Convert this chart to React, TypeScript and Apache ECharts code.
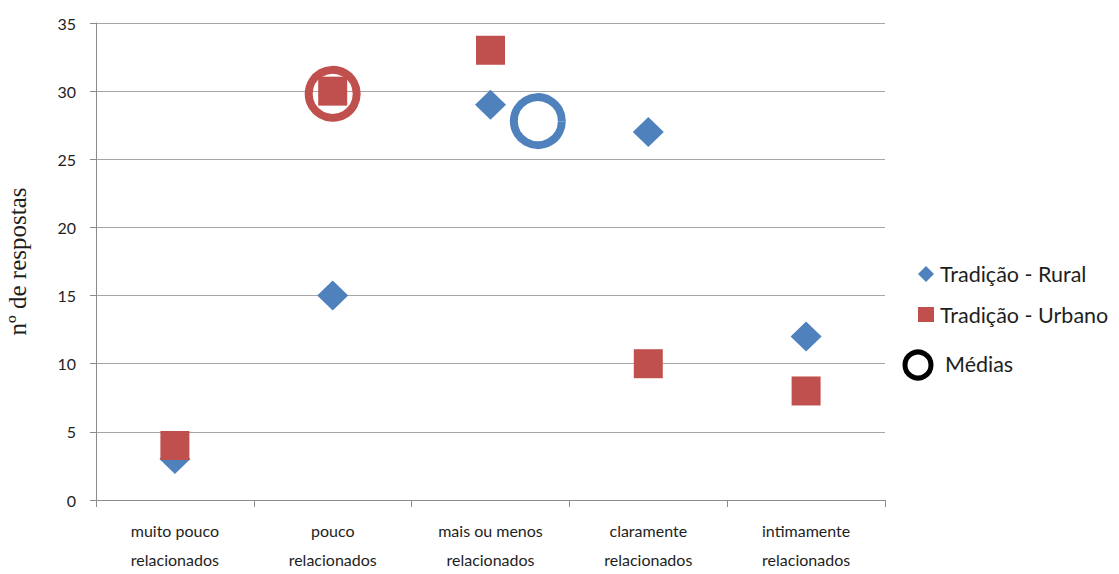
import React, { useEffect, useRef } from "react";
import * as echarts from "echarts";

const categories = [
  "muito pouco\nrelacionados",
  "pouco\nrelacionados",
  "mais ou menos\nrelacionados",
  "claramente\nrelacionados",
  "intimamente\nrelacionados",
];
const rural = [3, 15, 29, 27, 12];
const urbano = [4, 30, 33, 10, 8];
// médias: [category position (1-based), value]
const mediaUrbano = [2.0, 29.8];
const mediaRural = [3.3, 27.8];
const yTicks = { min: 0, max: 35, interval: 5 };

const BLUE = "#4F81BD";
const RED = "#C0504D";
const GRID = "#A6A6A6";
const TEXT = "#1e1e1e";
const SANS = "Lato, 'Open Sans', sans-serif";

export default function App() {
  const ref = useRef<HTMLDivElement>(null);
  useEffect(() => {
    const chart = echarts.init(ref.current!, undefined, { renderer: "svg" });
    chart.setOption({
      animation: false,
      backgroundColor: "#ffffff",
      grid: {
        left: 96,
        right: 234,
        top: 23,
        bottom: 74,
        containLabel: false,
        outerBoundsMode: "none",
      },
      xAxis: [
        {
          type: "category",
          data: categories,
          boundaryGap: true,
          axisLine: { show: true, lineStyle: { color: "#8c8c8c", width: 1 } },
          axisTick: { show: true, length: 7, lineStyle: { color: "#8c8c8c" } },
          axisLabel: {
            color: TEXT,
            fontFamily: SANS,
            fontSize: 16,
            lineHeight: 29,
            margin: 16,
            interval: 0,
          },
          splitLine: { show: false },
        },
        {
          type: "value",
          min: 0.5,
          max: 5.5,
          show: false,
          position: "bottom",
        },
      ],
      yAxis: {
        type: "value",
        min: yTicks.min,
        max: yTicks.max,
        interval: yTicks.interval,
        name: "nº de respostas",
        nameLocation: "middle",
        nameRotate: 90,
        nameGap: 66,
        nameTextStyle: {
          fontFamily: "'Liberation Serif', 'DejaVu Serif', serif",
          fontSize: 25,
          color: TEXT,
        },
        axisLine: { show: true, lineStyle: { color: "#8c8c8c", width: 1 } },
        axisTick: { show: true, length: 6, lineStyle: { color: "#8c8c8c" } },
        axisLabel: { color: TEXT, fontFamily: SANS, fontSize: 16, margin: 20 },
        splitLine: { show: true, lineStyle: { color: GRID, width: 1 } },
      },
      series: [
        {
          name: "Médias",
          type: "scatter",
          xAxisIndex: 1,
          symbol: "circle",
          symbolSize: 48,
          z: 1,
          data: [
            {
              value: mediaUrbano,
              itemStyle: { color: "rgba(0,0,0,0)", borderColor: RED, borderWidth: 8, opacity: 1 },
            },
            {
              value: mediaRural,
              itemStyle: { color: "rgba(0,0,0,0)", borderColor: BLUE, borderWidth: 8, opacity: 1 },
            },
          ],
        },
        {
          name: "Tradição - Rural",
          type: "scatter",
          xAxisIndex: 0,
          symbol: "diamond",
          symbolSize: [31, 30],
          z: 2,
          itemStyle: { color: BLUE, opacity: 1 },
          data: rural,
        },
        {
          name: "Tradição - Urbano",
          type: "scatter",
          xAxisIndex: 0,
          symbol: "rect",
          symbolSize: 29,
          z: 3,
          itemStyle: { color: RED, opacity: 1 },
          data: urbano,
        },
      ],
      graphic: [
        {
          type: "polygon",
          shape: { points: [[926, 266], [934, 274], [926, 282], [918, 274]] },
          style: { fill: BLUE },
        },
        {
          type: "text",
          x: 940,
          y: 274,
          style: {
            text: "Tradição - Rural",
            fontFamily: SANS,
            fontSize: 21.5,
            fill: TEXT,
            verticalAlign: "middle",
          },
        },
        {
          type: "rect",
          shape: { x: 918, y: 307, width: 16, height: 15 },
          style: { fill: RED },
        },
        {
          type: "text",
          x: 940,
          y: 315,
          style: {
            text: "Tradição - Urbano",
            fontFamily: SANS,
            fontSize: 21.5,
            fill: TEXT,
            verticalAlign: "middle",
          },
        },
        {
          type: "circle",
          shape: { cx: 918, cy: 365, r: 13 },
          style: { fill: "none", stroke: "#000", lineWidth: 5 },
        },
        {
          type: "text",
          x: 945,
          y: 364,
          style: {
            text: "Médias",
            fontFamily: SANS,
            fontSize: 21.5,
            fill: TEXT,
            verticalAlign: "middle",
          },
        },
      ],
    });
    return () => chart.dispose();
  }, []);
  return <div ref={ref} style={{ width: 1119, height: 574, margin: -8 }} />;
}
